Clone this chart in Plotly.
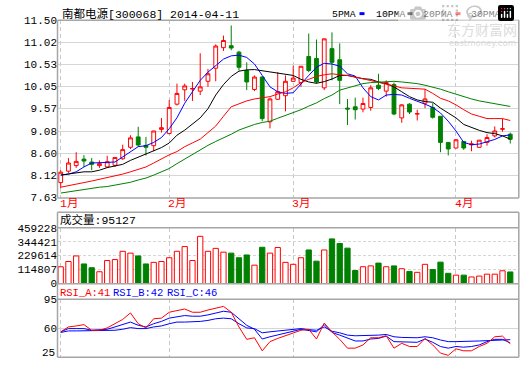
import plotly.graph_objects as go

# ---------------- data ----------------
idx = list(range(59))
month_pos = [0, 14, 30, 51]
month_labels = ["1月", "2月", "3月", "4月"]

open_ = [7.957, 8.206, 8.327, 8.469, 8.405, 8.327, 8.298, 8.334, 8.476, 8.726,
         8.953, 8.768, 8.761, 9.117, 9.025, 9.666, 9.979, 9.996, 9.950, 10.164,
         10.449, 10.897, 10.94, 10.80, 10.399, 9.986, 10.257, 9.281, 9.773, 9.851,
         10.164, 10.136, 10.705, 10.662, 10.022, 10.876, 10.634, 9.58, 9.609, 9.559,
         9.594, 10.079, 9.950, 10.093, 9.367, 9.666, 9.45, 9.687, 9.594, 9.402,
         8.833, 8.711, 8.854, 8.78, 8.726, 8.833, 8.975, 9.12, 9.011]
close = [8.184, 8.384, 8.419, 8.427, 8.355, 8.370, 8.412, 8.505, 8.676, 8.932,
         8.776, 8.726, 9.082, 9.153, 9.594, 9.900, 10.064, 10.007, 10.043, 10.328,
         10.933, 11.054, 10.89, 10.470, 10.150, 10.257, 9.352, 9.780, 9.936, 10.164,
         10.235, 10.492, 10.399, 10.150, 11.09, 10.577, 10.185, 9.56, 9.545, 9.680,
         10.022, 10.007, 10.136, 9.452, 9.651, 9.495, 9.46, 9.780, 9.381, 8.833,
         8.69, 8.89, 8.711, 8.80, 8.882, 8.939, 9.082, 9.13, 8.90]
high = [8.227, 8.491, 8.619, 8.555, 8.491, 8.441, 8.541, 8.505, 8.783, 8.989,
        9.174, 8.953, 9.082, 9.366, 9.758, 10.114, 10.114, 10.15, 10.776, 10.435,
        10.969, 11.161, 11.38, 10.83, 10.577, 10.292, 10.271, 9.808, 10.363, 10.292,
        10.506, 10.492, 11.204, 11.075, 11.09, 11.23, 10.99, 9.78, 9.808, 9.808,
        10.079, 10.328, 10.186, 10.136, 9.666, 9.687, 9.545, 9.993, 9.687, 9.402,
        8.84, 8.904, 8.86, 8.868, 8.882, 9.011, 9.182, 9.352, 9.046]
low = [7.836, 8.17, 8.277, 8.298, 8.227, 8.277, 8.277, 8.298, 8.455, 8.690,
       8.740, 8.548, 8.640, 9.046, 9.011, 9.637, 9.737, 9.737, 9.865, 10.043,
       10.164, 10.826, 10.84, 10.40, 9.972, 9.95, 9.295, 9.139, 9.758, 9.509,
       10.15, 10.043, 10.363, 10.114, 9.972, 10.186, 9.666, 9.21, 9.331, 9.488,
       9.523, 9.972, 9.83, 9.424, 9.26, 9.452, 9.31, 9.58, 9.352, 8.619,
       8.548, 8.70, 8.669, 8.64, 8.72, 8.762, 8.94, 9.068, 8.81]

ma5 = [8.121, 8.142, 8.192, 8.298, 8.384, 8.398, 8.398, 8.405, 8.512, 8.633,
       8.740, 8.761, 8.832, 8.939, 9.13, 9.37, 9.687, 9.936, 10.185, 10.363,
       10.506, 10.648, 10.719, 10.734, 10.684, 10.541, 10.292, 10.043, 9.936, 9.901,
       9.915, 10.114, 10.292, 10.470, 10.556, 10.541, 10.492, 10.328, 10.278, 10.022,
       9.830, 9.758, 9.865, 9.879, 9.865, 9.794, 9.737, 9.666, 9.594, 9.473,
       9.295, 9.082, 8.833, 8.783, 8.797, 8.854, 8.897, 8.975, 8.996]
ma10 = [8.121, 8.142, 8.170, 8.192, 8.192, 8.227, 8.284, 8.313, 8.355, 8.441,
        8.512, 8.583, 8.654, 8.72, 8.82, 8.99, 9.10, 9.23, 9.367, 9.566,
        9.865, 10.093, 10.271, 10.385, 10.413, 10.420, 10.392, 10.363, 10.335, 10.314,
        10.292, 10.207, 10.150, 10.121, 10.157, 10.214, 10.292, 10.292, 10.257, 10.221,
        10.207, 10.150, 10.114, 10.043, 9.936, 9.830, 9.758, 9.723, 9.708, 9.580,
        9.473, 9.367, 9.224, 9.153, 9.096, 9.046, 9.025, 8.975, 8.904]
ma20 = [7.857, 7.885, 7.928, 7.957, 7.992, 8.028, 8.056, 8.099, 8.142, 8.192,
        8.241, 8.298, 8.384, 8.476, 8.562, 8.633, 8.740, 8.822, 8.904, 9.046,
        9.189, 9.402, 9.609, 9.673, 9.737, 9.780, 9.801, 9.830, 9.886, 9.936,
        10.022, 10.136, 10.207, 10.271, 10.306, 10.328, 10.306, 10.292, 10.257, 10.221,
        10.185, 10.150, 10.114, 10.064, 10.022, 10.007, 9.993, 9.993, 9.901, 9.794,
        9.737, 9.651, 9.545, 9.452, 9.402, 9.352, 9.352, 9.352, 9.310]
ma30 = [7.729, 7.757, 7.786, 7.814, 7.836, 7.857, 7.871, 7.900, 7.928, 7.964,
        8.014, 8.056, 8.121, 8.20, 8.263, 8.370, 8.470, 8.576, 8.669, 8.768,
        8.854, 8.925, 9.011, 9.103, 9.167, 9.224, 9.267, 9.295, 9.359, 9.416,
        9.473, 9.545, 9.623, 9.694, 9.787, 9.865, 9.972, 10.022, 10.064, 10.114,
        10.136, 10.150, 10.164, 10.164, 10.150, 10.136, 10.114, 10.079, 10.043, 9.993,
        9.936, 9.879, 9.830, 9.780, 9.737, 9.708, 9.666, 9.637, 9.616]

volume = [137800, 181000, 227000, 161000, 130000, 97000, 189000, 197000, 265000, 250000,
          227000, 161000, 174000, 181000, 212000, 265000, 304000, 189000, 388000, 265000,
          289000, 258000, 250000, 212000, 235000, 151000, 298000, 250000, 296000, 174000,
          158000, 212000, 276000, 184000, 276000, 367000, 329000, 291000, 107000, 138000,
          145000, 168000, 138000, 145000, 122000, 99500, 92000, 158000, 115000, 176000,
          84000, 69000, 69000, 54000, 61000, 77000, 77000, 105000, 95127]

rsi_a = [55.5, 61.4, 62.6, 64.2, 57.4, 57.4, 60.2, 65.3, 70.5, 78.4,
         65.3, 60.2, 71.3, 72.1, 79.2, 81.2, 83.1, 79.2, 79.2, 81.9,
         84.3, 86.3, 79.2, 61.4, 46.4, 48.3, 32.5, 43.6, 47.5, 50.7,
         53.5, 57.4, 58.6, 46.8, 66.1, 55.5, 46.4, 35.7, 35.7, 39.6,
         48.3, 48.3, 50.7, 35.7, 41.6, 37.7, 37.7, 47.5, 39.6, 29.7,
         27.0, 34.9, 32.5, 32.5, 37.7, 41.6, 49.5, 50.3, 41]
rsi_b = [55.5, 59.4, 59.4, 59.4, 57.4, 58.2, 58.6, 61.4, 64.2, 67.3,
         63.4, 61.4, 65.3, 68.1, 72.1, 74.0, 75.2, 74.4, 74.4, 76.0,
         78.0, 80.4, 79.2, 71.3, 63.4, 58.6, 46.8, 49.5, 51.5, 53.5,
         56.2, 58.6, 57.4, 55.5, 64.2, 54.7, 51.5, 47.5, 44.4, 44.4,
         46.8, 47.5, 50.3, 43.6, 43.6, 42.8, 42.8, 46.8, 42.8, 37.7,
         35.7, 37.7, 36.9, 37.7, 39.6, 43.6, 46.4, 46.4, 42]
rsi_c = [54.7, 56.6, 56.6, 56.6, 56.6, 56.6, 56.6, 57.4, 58.6, 60.6,
         59.4, 59.4, 61.4, 62.6, 65.3, 67.3, 67.3, 67.3, 68.1, 69.3,
         71.3, 72.1, 71.3, 65.3, 60.2, 59.4, 54.3, 55.5, 56.6, 57.4,
         58.6, 59.4, 58.2, 57.4, 61.4, 56.2, 54.3, 51.5, 50.7, 50.7,
         51.5, 51.5, 52.3, 49.5, 48.7, 48.3, 48.3, 49.5, 48.3, 45.6,
         43.6, 43.6, 43.6, 43.6, 44.4, 44.8, 45.6, 45.6, 46]

price_ticks = [7.63, 8.12, 8.60, 9.08, 9.57, 10.05, 10.53, 11.02, 11.50]
vol_ticks = [0, 114807, 229614, 344421, 459228]
rsi_ticks = [60, 95]

title_text = "南都电源[300068] 2014-04-11"
legend_names = ["5PMA", "10PMA", "20PMA", "30PMA"]

# ---------------- styling ----------------
RED = "#ff0000"
GREEN = "#008000"
BLUE = "#0000ff"
BLACK = "#000000"
FRAME = "#a6a6a6"
GRID = "#d6d6d6"
MONO = "Liberation Mono, Noto Sans CJK SC"

W, H = 520, 365
L, R, T, B = 58, 2, 20, 1
PW, PH = W - L - R, H - T - B


def px_x(px):
    return (px - L) / PW


def px_y(py):
    return (H - B - py) / PH


fig = go.Figure()

fig.add_trace(go.Candlestick(
    x=idx, open=open_, high=high, low=low, close=close,
    increasing=dict(line=dict(color=RED, width=1), fillcolor="#ffffff"),
    decreasing=dict(line=dict(color=GREEN, width=1), fillcolor=GREEN),
    whiskerwidth=0, xaxis="x", yaxis="y", hoverinfo="skip"))

for ys, col in [(ma5, BLUE), (ma10, BLACK), (ma20, RED), (ma30, GREEN)]:
    fig.add_trace(go.Scatter(x=idx, y=ys, mode="lines", line=dict(color=col, width=1),
                             xaxis="x", yaxis="y", hoverinfo="skip"))

up = [c >= o for o, c in zip(open_, close)]
fig.add_trace(go.Bar(
    x=idx, y=volume, width=0.68,
    marker=dict(color=["#ffffff" if u else GREEN for u in up],
                line=dict(color=[RED if u else GREEN for u in up], width=1)),
    xaxis="x2", yaxis="y2", hoverinfo="skip"))

for ys, col in [(rsi_c, BLUE), (rsi_b, BLUE), (rsi_a, RED)]:
    fig.add_trace(go.Scatter(x=idx, y=ys, mode="lines", line=dict(color=col, width=1),
                             xaxis="x3", yaxis="y3", hoverinfo="skip"))

xcommon = dict(range=[-0.348, 59.0], showticklabels=False, tickvals=month_pos,
               showgrid=True, gridcolor="#c8c8c8", griddash="4px,3px", gridwidth=1,
               zeroline=False, showline=False, ticks="", fixedrange=True)

main_dom = [px_y(201.3), 1.0]
vol_dom = [px_y(289), px_y(232)]
rsi_dom = [0.0, px_y(305)]

ycommon = dict(showgrid=True, gridcolor=GRID, gridwidth=1, zeroline=False, showline=False,
               ticks="", tickfont=dict(family=MONO, size=11, color="#000000"),
               fixedrange=True)

fig.update_layout(
    width=W, height=H,
    margin=dict(l=L, r=R, t=T, b=B, pad=0),
    paper_bgcolor="#ffffff", plot_bgcolor="#ffffff",
    showlegend=False, hovermode=False, bargap=0.3,
    xaxis=dict(xcommon, anchor="y", rangeslider=dict(visible=False)),
    xaxis2=dict(xcommon, anchor="y2", matches="x"),
    xaxis3=dict(xcommon, anchor="y3", matches="x"),
    yaxis=dict(ycommon, domain=main_dom, range=[7.63, 11.50], tickvals=price_ticks,
               ticktext=["%.2f" % v for v in price_ticks]),
    yaxis2=dict(ycommon, domain=vol_dom, range=[0, 459228], tickvals=vol_ticks,
                ticktext=[str(v) for v in vol_ticks], griddash="3px,2px"),
    yaxis3=dict(ycommon, domain=rsi_dom, range=[25, 95], tickvals=rsi_ticks,
                ticktext=[str(v) for v in rsi_ticks]),
)

# ---------------- frames ----------------
shapes = []
xl, xr = px_x(57.5), px_x(518.8)


def hline(py, col=FRAME, w=1.5):
    shapes.append(dict(type="line", xref="paper", yref="paper", x0=xl, x1=xr,
                       y0=px_y(py), y1=px_y(py), line=dict(color=col, width=w)))


def vline(px, py0, py1, col=FRAME, w=1.5):
    shapes.append(dict(type="line", xref="paper", yref="paper", x0=px_x(px), x1=px_x(px),
                       y0=px_y(py0), y1=px_y(py1), line=dict(color=col, width=w)))


hline(20.3)
hline(201.6)
vline(57.5, 20.3, 201.6)
vline(518.8, 20.3, 201.6)
hline(216.3)
hline(232)
hline(289.3)
hline(305)
hline(364.2)
vline(57.5, 216.3, 364.2)
vline(518.8, 216.3, 364.2)

# legend swatches
for x0, col in [(359.5, BLUE), (407.5, BLACK), (455.5, RED), (503.5, GREEN)]:
    shapes.append(dict(type="rect", xref="paper", yref="paper",
                       x0=px_x(x0), x1=px_x(x0 + 5), y0=px_y(15), y1=px_y(12),
                       line=dict(width=0), fillcolor=col))
fig.update_layout(shapes=shapes)

# ---------------- texts ----------------
ann = []


def text(t, px, py, col="#000000", size=11, xanchor="left", family=MONO, **kw):
    ann.append(dict(text=t, xref="paper", yref="paper", x=px_x(px), y=px_y(py),
                    xanchor=xanchor, yanchor="middle", showarrow=False, borderpad=0,
                    font=dict(family=family, size=size, color=col), **kw))


text(title_text, 61, 13.5, size=11.5)
for name, px in zip(legend_names, [331, 375, 422, 470]):
    text(name, px, 14, size=9.8)

text("东方财富网", 518, 29.5, col="#dcdcdc", size=14, xanchor="right",
     family="Noto Sans CJK SC")
text("eastmoney.com", 517, 43, col="#dcdcdc", size=8.5, xanchor="right",
     family="DejaVu Sans")

for pos, lab in zip(month_pos, month_labels):
    ann.append(dict(text=lab, xref="x", yref="paper", x=pos, y=px_y(207.5),
                    xanchor="left", yanchor="middle", xshift=-3, showarrow=False,
                    font=dict(family=MONO, size=11.5, color=RED)))

text("成交量:%d" % volume[-1], 59, 224.5, size=11.5)
text("RSI_A:%d" % round(rsi_a[-1]), 59, 298.5, col=RED, size=10.5)
text("RSI_B:%d" % round(rsi_b[-1]), 112, 298.5, col=BLUE, size=10.5)
text("RSI_C:%d" % round(rsi_c[-1]), 166, 298.5, col=BLUE, size=10.5)
text("25", 55.5, 359.5, size=11, xanchor="right")

fig.update_layout(annotations=ann)

fig.write_html("out.html",
               post_script="document.body.style.margin='0px';"
                           "document.body.style.overflow='hidden';")
